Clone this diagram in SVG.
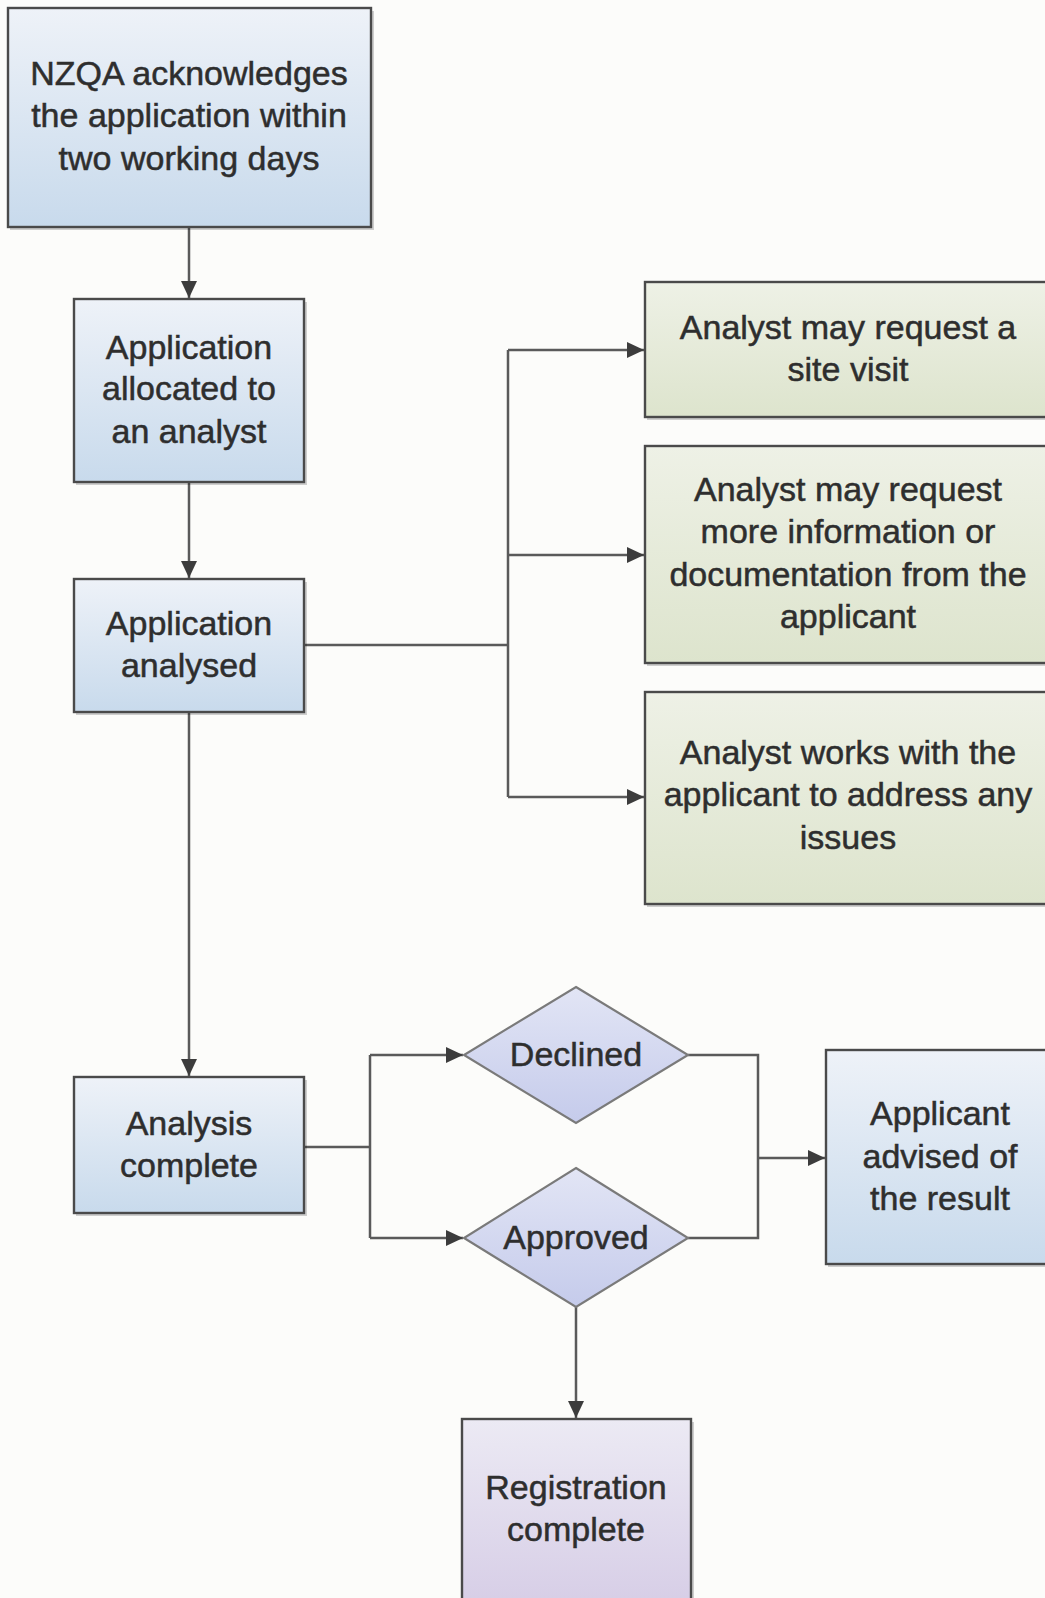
<svg xmlns="http://www.w3.org/2000/svg" width="1045" height="1598" viewBox="0 0 1045 1598">
<style>
  .box { stroke: #4a4a4a; stroke-width: 2.4; }
  .blue { fill: url(#gBlue); }
  .green { fill: url(#gGreen); }
  .lav { fill: url(#gLav); }
  .dia { fill: url(#gDia); stroke: #7a7a7a; stroke-width: 2.2; }
  .shadow { fill: #000; opacity: 0.18; }
  .lbl { font-family: "Liberation Sans", Arial, sans-serif; font-size: 34px; fill: #2e2e2e; stroke: #2e2e2e; stroke-width: 0.5; text-anchor: middle; }
  .conn { fill: none; stroke: #5a5a5a; stroke-width: 2.5; }
</style>
<defs>
  <linearGradient id="gBlue" x1="0" y1="0" x2="0" y2="1">
    <stop offset="0" stop-color="#eef2f8"/>
    <stop offset="1" stop-color="#c8daec"/>
  </linearGradient>
  <linearGradient id="gGreen" x1="0" y1="0" x2="0" y2="1">
    <stop offset="0" stop-color="#eef1e6"/>
    <stop offset="1" stop-color="#dde4cd"/>
  </linearGradient>
  <linearGradient id="gLav" x1="0" y1="0" x2="0" y2="1">
    <stop offset="0" stop-color="#eceaf4"/>
    <stop offset="1" stop-color="#d6cde6"/>
  </linearGradient>
  <linearGradient id="gDia" x1="0" y1="0" x2="0" y2="1">
    <stop offset="0" stop-color="#e2e5f5"/>
    <stop offset="1" stop-color="#c5cbeb"/>
  </linearGradient>
  <marker id="arr" markerWidth="17" markerHeight="16" viewBox="0 0 17 16" refX="17" refY="8" orient="auto" markerUnits="userSpaceOnUse">
    <path d="M0,0 L17,8 L0,16 Z" fill="#3c3c3c"/>
  </marker>
</defs>
<rect x="0" y="0" width="1045" height="1598" fill="#fcfcfa"/>

<g id="connectors">
  <path class="conn" d="M189,227 V298" marker-end="url(#arr)"/>
  <path class="conn" d="M189,482 V578" marker-end="url(#arr)"/>
  <path class="conn" d="M189,712 V1076" marker-end="url(#arr)"/>
  <path class="conn" d="M304,645 H508"/>
  <path class="conn" d="M508,350 V797"/>
  <path class="conn" d="M508,350 H644" marker-end="url(#arr)"/>
  <path class="conn" d="M508,555 H644" marker-end="url(#arr)"/>
  <path class="conn" d="M508,797 H644" marker-end="url(#arr)"/>
  <path class="conn" d="M304,1147 H370"/>
  <path class="conn" d="M370,1055 V1238"/>
  <path class="conn" d="M370,1055 H463" marker-end="url(#arr)"/>
  <path class="conn" d="M370,1238 H463" marker-end="url(#arr)"/>
  <path class="conn" d="M688,1055 H758 V1238 H688"/>
  <path class="conn" d="M758,1158 H825" marker-end="url(#arr)"/>
  <path class="conn" d="M576,1307 V1418" marker-end="url(#arr)"/>
</g>

<g id="n1">
  <rect class="shadow" x="10" y="11" width="364" height="219"/>
  <rect class="box blue" x="8" y="8" width="363" height="219"/>
  <text class="lbl" x="189" y="85">NZQA acknowledges</text>
  <text class="lbl" x="189" y="127">the application within</text>
  <text class="lbl" x="189" y="170">two working days</text>
</g>

<g id="n2">
  <rect class="shadow" x="76" y="302" width="231" height="183"/>
  <rect class="box blue" x="74" y="299" width="230" height="183"/>
  <text class="lbl" x="189" y="359">Application</text>
  <text class="lbl" x="189" y="400">allocated to</text>
  <text class="lbl" x="189" y="443">an analyst</text>
</g>

<g id="n3">
  <rect class="shadow" x="76" y="582" width="231" height="133"/>
  <rect class="box blue" x="74" y="579" width="230" height="133"/>
  <text class="lbl" x="189" y="635">Application</text>
  <text class="lbl" x="189" y="677">analysed</text>
</g>

<g id="n4">
  <rect class="shadow" x="647" y="285" width="410" height="135"/>
  <rect class="box green" x="645" y="282" width="410" height="135"/>
  <text class="lbl" x="848" y="339">Analyst may request a</text>
  <text class="lbl" x="848" y="381">site visit</text>
</g>

<g id="n5">
  <rect class="shadow" x="647" y="449" width="410" height="217"/>
  <rect class="box green" x="645" y="446" width="410" height="217"/>
  <text class="lbl" x="848" y="501">Analyst may request</text>
  <text class="lbl" x="848" y="543">more information or</text>
  <text class="lbl" x="848" y="586">documentation from the</text>
  <text class="lbl" x="848" y="628">applicant</text>
</g>

<g id="n6">
  <rect class="shadow" x="647" y="695" width="410" height="212"/>
  <rect class="box green" x="645" y="692" width="410" height="212"/>
  <text class="lbl" x="848" y="764">Analyst works with the</text>
  <text class="lbl" x="848" y="806">applicant to address any</text>
  <text class="lbl" x="848" y="849">issues</text>
</g>

<g id="n7">
  <rect class="shadow" x="76" y="1080" width="231" height="136"/>
  <rect class="box blue" x="74" y="1077" width="230" height="136"/>
  <text class="lbl" x="189" y="1135">Analysis</text>
  <text class="lbl" x="189" y="1177">complete</text>
</g>

<g id="n8">
  <polygon class="dia" points="576,987 688,1055 576,1123 464,1055"/>
  <text class="lbl" x="576" y="1066">Declined</text>
</g>

<g id="n9">
  <polygon class="dia" points="576,1168 688,1238 576,1307 464,1238"/>
  <text class="lbl" x="576" y="1249">Approved</text>
</g>

<g id="n10">
  <rect class="shadow" x="828" y="1053" width="230" height="214"/>
  <rect class="box blue" x="826" y="1050" width="230" height="214"/>
  <text class="lbl" x="940" y="1125">Applicant</text>
  <text class="lbl" x="940" y="1168">advised of</text>
  <text class="lbl" x="940" y="1210">the result</text>
</g>

<g id="n11">
  <rect class="shadow" x="464" y="1422" width="230" height="190"/>
  <rect class="box lav" x="462" y="1419" width="229" height="190"/>
  <text class="lbl" x="576" y="1499">Registration</text>
  <text class="lbl" x="576" y="1541">complete</text>
</g>
</svg>
